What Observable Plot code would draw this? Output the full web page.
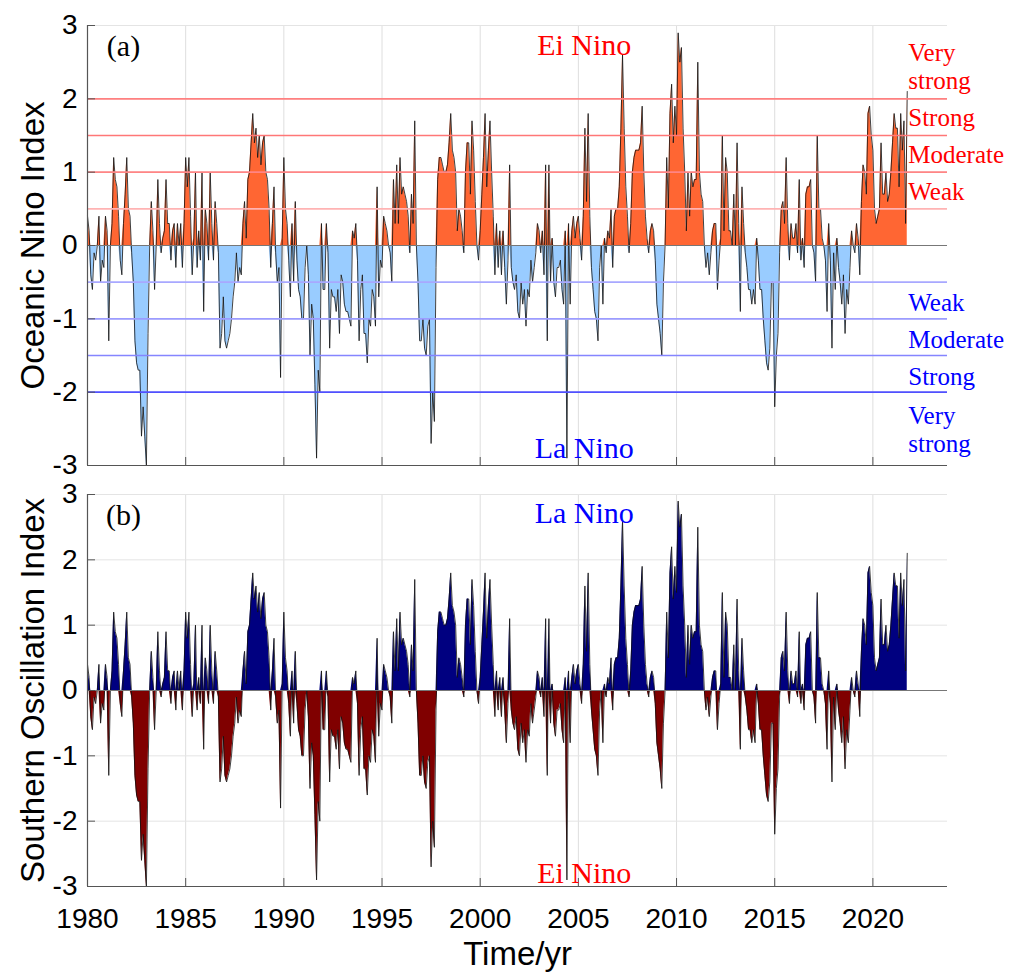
<!DOCTYPE html>
<html>
<head>
<meta charset="utf-8">
<script src="https://cdn.jsdelivr.net/npm/d3@7"></script>
<script src="https://cdn.jsdelivr.net/npm/@observablehq/plot@0.6"></script>
<style>
  body { margin: 0; background: #fff; }
  #chart svg { display: block; }
</style>
</head>
<body>
<div id="chart"></div>
<script>
// Monthly index values, starting January 1980
const oni1980s = [
  0.4, 0.2, -0.4, -0.6, -0.1, -0.2, 0.0, 0.4, -0.5, -0.2, -0.3, 0.4,
  0.2, -1.3, 0.0, 0.3, 1.2, 0.9, 0.8, 0.4, -0.2, -0.4, 0.3, 0.7,
  1.2, 0.5, 0.4, -0.1, -0.5, -1.3, -1.6, -1.7, -1.7, -2.6, -2.2, -2.6,
  -3.0, -1.2, 0.0, 0.6, 0.2, -0.6, 0.0, 0.9, 0.3, -0.1, 0.1, 0.2,
  0.9, 0.3, 0.3, -0.2, 0.2, 0.3, -0.3, 0.3, 0.0, 0.3, -0.3, 0.3,
  1.2, 0.8, 1.2, 0.4, -0.4, 0.1, 1.0, -0.3, 0.2, -0.2, 1.0, -0.9,
  0.5, 0.3, -0.2, 1.0, 0.3, -0.2, 0.6, 0.3, -0.1, -1.4, -1.2, -0.7,
  -1.3, -1.4, -1.3, -1.2, -1.0, -0.7, -0.5, -0.1, -0.5, -0.3, -0.4, 0.3,
  0.6, 0.1, 0.9, 1.0, 1.4, 1.8, 1.4, 1.6, 1.2, 1.5, 1.1, 1.4,
  1.5, 1.0, 0.9, 0.5, -0.3, 0.3, 0.8, -0.1, -0.5, -0.3, -1.8, 0.1
];
const oni1990s = [
  1.2, 0.5, 0.3, -0.2, -0.7, 0.3, -0.5, 0.6, -0.2, -0.6, -0.7, -1.0,
  -1.0, -0.3, 0.0, -0.4, -1.5, -0.8, -1.0, -1.9, -2.9, -1.7, -2.0, 0.3,
  -0.6, -0.6, 0.3, -0.1, -1.4, -0.6, -0.7, -0.7, -0.9, -0.6, -1.2, -0.4,
  -0.5, -0.8, -0.9, -0.9, -1.0, -1.1, 0.2, 0.1, 0.3, -0.2, -1.3, -0.6,
  -0.4, -1.2, -1.2, -1.6, -1.0, -1.1, -0.6, -0.7, -1.1, 0.8, -0.7, -0.2,
  -0.3, 0.4, 0.3, 0.2, 0.0, -0.1, -0.5, 0.9, 0.3, 1.1, 0.3, 1.2,
  0.7, 0.8, 0.7, 0.6, 0.4, -0.1, 0.7, 0.3, 1.7, 0.0, -0.5, -1.3,
  -1.3, -1.0, -1.4, -1.5, -1.1, -1.0, -2.7, -2.0, -2.4, -0.3, 0.9, 1.2,
  1.2, 1.1, 1.0, 1.0, 1.1, 1.4, 1.8, 1.3, 1.2, 1.0, 0.2, 0.5,
  0.4, 0.2, -0.1, 1.0, 1.4, 1.4, 0.7, 1.7, 1.3, 0.6, 0.0, -0.2
];
const oni2000s = [
  0.2, 0.7, 1.2, 1.8, 0.8, 1.3, 1.7, 1.0, 0.4, -0.4, 0.3, -0.3,
  0.2, -0.4, 0.2, -0.3, -0.8, -0.2, 1.1, -0.3, -0.5, -0.6, -0.4, -0.9,
  -1.0, -0.5, -0.8, -0.6, -1.1, -0.6, -0.7, -0.2, -0.5, -0.3, -0.1, 0.3,
  0.2, -0.1, 0.2, -0.4, 1.1, -1.3, 1.1, -0.5, 0.1, -0.5, -0.7, -0.3,
  -0.3, -0.2, -0.6, -0.8, 0.2, -2.9, 0.3, -0.8, 0.2, 0.4, 0.1, 0.3,
  0.4, 0.1, -0.2, 0.4, 1.6, 0.6, 1.8, 0.4, -0.3, -0.6, -0.9, -1.0,
  -1.3, -0.3, 0.0, -0.8, 0.1, -0.1, 0.2, 0.1, 0.5, -0.3, 0.4, 0.5,
  0.5, 0.8, 1.6, 2.6, 1.6, 0.8, 0.4, -0.1, 0.3, 1.0, 1.2, 1.3,
  1.3, 1.3, 1.4, 1.9, 1.0, 0.4, 0.1, -0.1, 0.2, 0.3, 0.2, -0.2,
  -0.8, -1.0, -1.2, -1.5, -0.5, 0.0, 1.2, 0.5, 1.8, 2.2, 1.4, 1.9
];
const oni2010s = [
  1.5, 2.9, 2.5, 2.7, 1.6, 1.0, 0.2, 1.0, 0.4, 1.0, 0.8, 0.9,
  0.9, 2.5, 1.0, 0.7, 0.6, 0.0, -0.3, -0.1, -0.4, -0.1, 0.2, 0.3,
  0.3, -0.6, -0.2, 0.1, 1.5, 0.2, 1.2, 1.0, 0.2, 0.2, 0.0, 0.7,
  0.0, 1.4, 0.3, -0.9, 0.8, 0.3, -0.1, -0.3, -0.6, -0.6, -0.8, -0.6,
  -0.8, 0.1, -0.2, -0.6, -0.6, -1.0, -1.3, -1.6, -1.7, -1.4, -0.5, -0.5,
  -2.2, -1.5, -1.2, -0.1, 0.5, 0.6, 0.3, 1.2, 0.3, -0.2, 0.3, 0.1,
  0.1, 0.3, -0.1, 0.9, -0.2, 0.1, -0.3, 0.7, 0.8, 0.8, 0.9, 0.0,
  -0.1, -0.5, 1.5, 0.5, 0.5, 0.1, 0.0, -0.2, -0.9, 0.3, -0.2, -1.4,
  -0.1, -0.6, 0.1, -0.3, -0.5, -0.8, -0.4, -1.2, -0.6, -0.8, -0.3, 0.2,
  0.0, -0.1, 0.3, 0.1, -0.4, 0.6, 1.1, 1.0, 0.7, 1.8, 1.9, 1.5
];
const oni2020s = [
  1.3, 0.5, 0.3, 0.4, 0.5, 1.4, 0.7, 0.7, 1.0, 0.6, 0.7, 1.0,
  1.4, 1.8, 1.6, 1.6, 0.8, 1.8, 1.3, 1.7, 0.3, 2.1
];

const startYear = 1980;
const xDomain = [1980, 2023.8];
const xTicks = [1980, 1985, 1990, 1995, 2000, 2005, 2010, 2015, 2020];
const yTicks = [-3, -2, -1, 0, 1, 2, 3];
const elNinoLevels = [0.5, 1, 1.5, 2];
const laNinaLevels = [-0.5, -1, -1.5, -2];
const levelNames = ["Weak", "Moderate", "Strong", "Very\nstrong"];

const values = [...oni1980s, ...oni1990s, ...oni2000s, ...oni2010s, ...oni2020s];
const series = values.map((v, i) => ({t: startYear + i / 12, v}));
const lastT = series[series.length - 1].t;

const SANS = "Liberation Sans, Arial, sans-serif";
const SERIF = "Liberation Serif, Times New Roman, serif";

function panel(cfg) {
  const marks = [
    Plot.gridX(xTicks, {stroke: "#dedede", strokeOpacity: 1}),
    Plot.gridY(yTicks, {stroke: "#e4e4e4", strokeOpacity: 1}),
    Plot.areaY(series, {x: "t", y: d => Math.max(0, d.v), fill: cfg.posFill}),
    Plot.areaY(series, {x: "t", y: d => Math.min(0, d.v), fill: cfg.negFill}),
    Plot.line(series, {x: "t", y: "v", stroke: "#111", strokeWidth: 0.8}),
    Plot.ruleY([0], {stroke: "#777", strokeWidth: 1})
  ];
  if (cfg.levels) {
    const redCols = ["#ffb3b3", "#ff8585", "#ff7777", "#ff8080"];
    const blueCols = ["#a8a8ff", "#9c9cff", "#8585ff", "#5050ff"];
    for (let i = 0; i < elNinoLevels.length; ++i) {
      marks.push(
        Plot.ruleY([elNinoLevels[i]], {stroke: redCols[i], strokeWidth: 1.7}),
        Plot.ruleY([laNinaLevels[i]], {stroke: blueCols[i], strokeWidth: 1.7})
      );
    }
    marks.push(
      Plot.text(levelNames, {
        x: () => lastT, dx: 1,
        y: (d, i) => elNinoLevels[i] + (i === 3 ? 0.45 : 0.25),
        text: d => d, fill: "#ff0000", textAnchor: "start",
        fontFamily: SERIF, fontSize: 25, lineHeight: 1.15
      }),
      Plot.text(levelNames, {
        x: () => lastT, dx: 1,
        y: (d, i) => laNinaLevels[i] - (i === 3 ? 0.5 : 0.27),
        text: d => d, fill: "#0000ff", textAnchor: "start",
        fontFamily: SERIF, fontSize: 25, lineHeight: 1.15
      })
    );
  }
  marks.push(
    Plot.ruleX([xDomain[0]], {stroke: "#555", strokeWidth: 1.2}),
    Plot.ruleY([-3], {stroke: "#555", strokeWidth: 1.2}),
    Plot.axisY(yTicks, {
      tickSize: -8, tickPadding: 18, stroke: "#555",
      tickFormat: d => String(d), fontSize: 28, label: null
    }),
    Plot.axisX(xTicks, {
      tickSize: -8, tickPadding: 30, stroke: "#555",
      tickFormat: cfg.xLabels ? (d => String(d)) : (() => ""), fontSize: 28, label: null
    }),
    Plot.text([cfg.yLabel], {frameAnchor: "left", dx: -54, rotate: -90, textAnchor: "middle", lineAnchor: "middle", fontSize: 33, fontFamily: SANS, fill: "#000"}),
    Plot.text([cfg.tag], {frameAnchor: "top-left", dx: 36, dy: 21, textAnchor: "middle", lineAnchor: "middle", fontSize: 30, fontFamily: SERIF, fill: "#000"}),
    Plot.text([cfg.topText], {x: () => 2005.3, y: () => cfg.topY, fontSize: 30, fontFamily: SERIF, fill: cfg.topColor}),
    Plot.text([cfg.botText], {x: () => 2005.3, y: () => cfg.botY, fontSize: 30, fontFamily: SERIF, fill: cfg.botColor})
  );
  if (cfg.xLabels) {
    marks.push(Plot.text(["Time/yr"], {frameAnchor: "bottom", dy: 68, lineAnchor: "middle", textAnchor: "middle", fontSize: 33, fontFamily: SANS, fill: "#000"}));
  }
  return Plot.plot({
    width: 1013,
    height: cfg.height,
    marginLeft: 87,
    marginRight: 66,
    marginTop: cfg.marginTop,
    marginBottom: cfg.marginBottom,
    x: {domain: xDomain, axis: null},
    y: {domain: [-3, 3], axis: null},
    style: {fontFamily: SANS, color: "#000", background: "#fff", overflow: "visible"},
    marks
  });
}

const chart = document.getElementById("chart");
chart.appendChild(panel({
  height: 478, marginTop: 25, marginBottom: 13,
  posFill: "#ff6633", negFill: "#99ccff",
  levels: true, xLabels: false,
  yLabel: "Oceanic Nino Index", tag: "(a)",
  topText: "Ei Nino", topColor: "#ff0000", topY: 2.73,
  botText: "La Nino", botColor: "#0000ff", botY: -2.77
}));
chart.appendChild(panel({
  height: 498, marginTop: 16, marginBottom: 90,
  posFill: "#000080", negFill: "#800000",
  levels: false, xLabels: true,
  yLabel: "Southern Oscillation Index", tag: "(b)",
  topText: "La Nino", topColor: "#0000ff", topY: 2.71,
  botText: "Ei Nino", botColor: "#ff0000", botY: -2.8
}));
</script>
</body>
</html>
